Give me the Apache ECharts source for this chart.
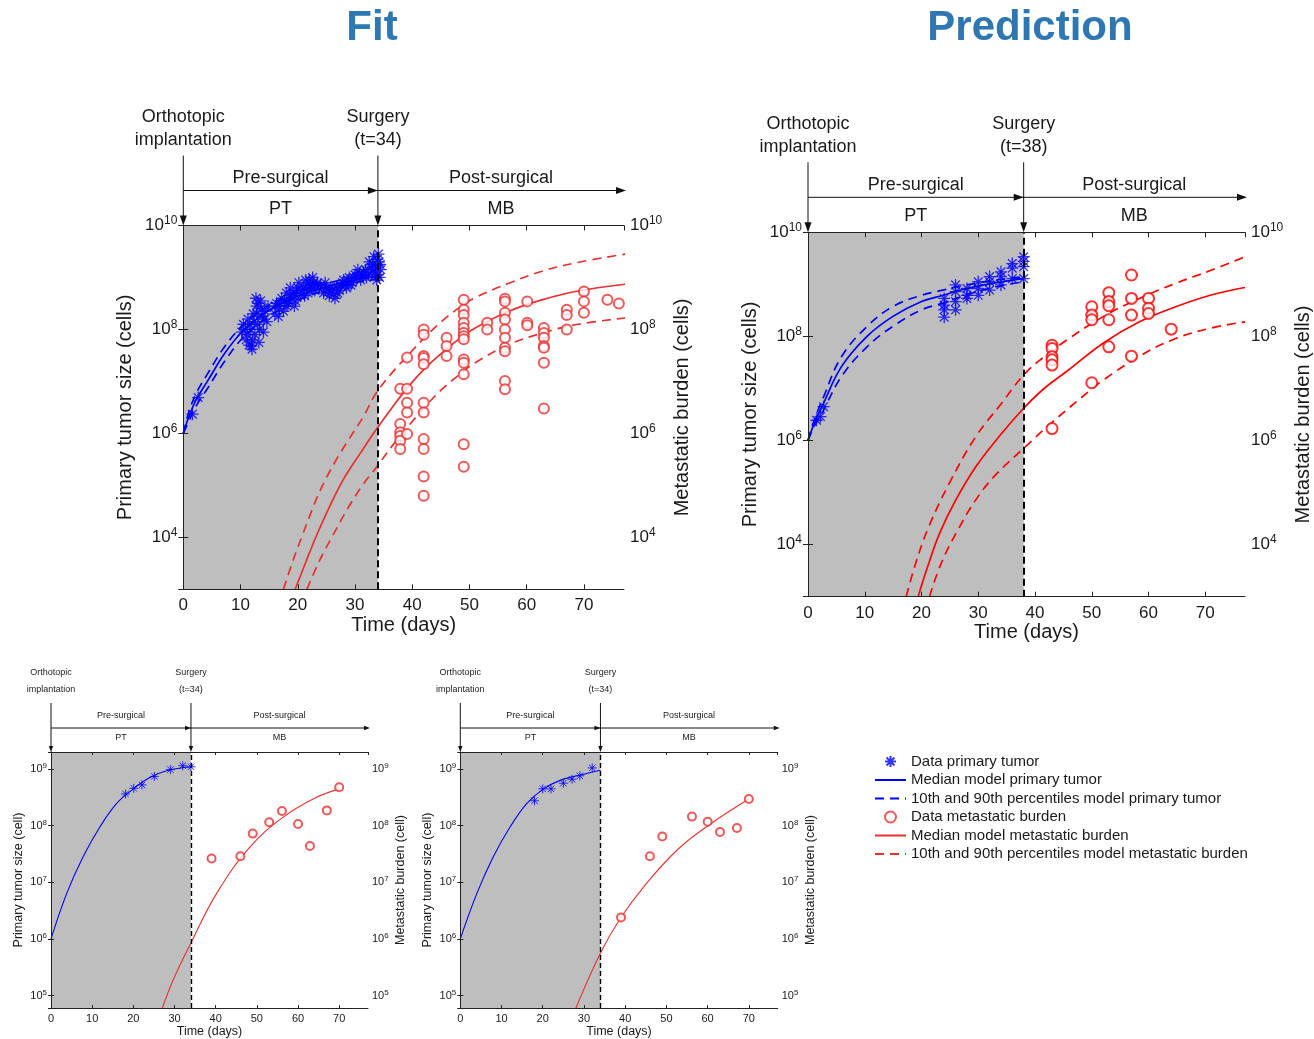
<!DOCTYPE html>
<html>
<head>
<meta charset="utf-8">
<script src="https://cdn.jsdelivr.net/npm/echarts@6/dist/echarts.min.js"></script>
<style>
html,body{margin:0;padding:0;background:#fff;}
#chart{width:1314px;height:1039px;}
</style>
</head>
<body>
<div id="chart"></div>
<script>
// ===================== DATA (values are log10 of cell counts) =====================
const xTickValues = [0, 10, 20, 30, 40, 50, 60, 70];
const timeMax = 77;

// ---- Fit panel (top-left) ----
const fitSurgery = 34;
const fitPTDataDays = [1.6, 2.6, 10.2, 10.5, 11.0, 11.3, 11.5, 11.8, 12.0, 12.2, 12.5, 12.7, 12.8, 13.0, 13.2, 13.5, 13.8, 14.0, 14.3, 14.6, 16.0, 16.3, 16.8, 17.2, 17.5, 18.0, 18.3, 18.7, 19.0, 19.4, 19.8, 20.2, 20.5, 21.0, 21.4, 21.8, 22.2, 22.6, 23.0, 23.4, 24.0, 24.5, 25.0, 25.5, 26.0, 26.5, 27.0, 27.5, 28.0, 28.5, 29.0, 29.5, 30.0, 30.5, 31.0, 31.5, 32.0, 32.5, 33.0, 33.3, 33.6, 33.8, 34.0, 34.2, 34.5,
  10.8, 11.2, 11.6, 12.1, 12.4, 12.9, 13.3, 13.6, 14.1, 14.8, 13.1, 11.9,
  16.1, 16.6, 17.0, 17.7, 18.1, 18.5, 19.2, 19.6, 20.0, 20.7, 21.2, 21.6, 22.0, 22.4, 22.8, 23.2,
  24.2, 24.8, 25.3, 25.8, 26.3, 26.8, 27.3, 27.8, 28.3, 28.8, 29.3, 29.8,
  30.3, 30.8, 31.3, 31.8, 32.3, 32.8, 33.1, 33.5, 33.9, 34.3, 34.4, 34.1];
const fitPTDataLog = [6.37, 6.69, 7.95, 8.10, 7.80, 8.20, 7.70, 8.00, 7.62, 8.30, 7.90, 8.60, 8.45, 8.10, 7.75, 8.55, 8.25, 7.95, 8.35, 8.15, 8.30, 8.50, 8.40, 8.60, 8.35, 8.70, 8.50, 8.80, 8.60, 8.45, 8.75, 8.90, 8.65, 8.80, 8.95, 8.70, 8.85, 9.00, 8.75, 8.90, 8.85, 8.70, 8.80, 8.65, 8.75, 8.60, 8.70, 8.85, 8.95, 8.80, 9.00, 8.90, 9.05, 9.15, 8.95, 9.10, 9.00, 9.30, 9.10, 9.40, 9.20, 8.95, 9.05, 9.30, 9.15,
  8.00, 7.90, 8.10, 7.80, 8.15, 8.30, 8.00, 8.40, 8.20, 8.45, 8.50, 7.68,
  8.45, 8.25, 8.50, 8.55, 8.45, 8.65, 8.70, 8.55, 8.80, 8.75, 8.65, 8.85, 8.95, 8.80, 8.90, 8.85,
  8.78, 8.90, 8.72, 8.82, 8.68, 8.80, 8.75, 8.90, 8.85, 8.95, 8.85, 9.00,
  9.00, 9.08, 9.05, 9.15, 9.05, 9.20, 9.25, 9.10, 9.35, 9.00, 9.25, 9.45];
const fitPTModelDays = [0, 1, 2.3, 4.2, 7.3, 10.4, 14, 18, 22, 26, 30, 34];
const fitPTMedianLog = [6.0, 6.33, 6.66, 7.0, 7.55, 7.97, 8.3, 8.55, 8.72, 8.85, 8.95, 9.02];
const fitPTHighLog   = [6.0, 6.42, 6.78, 7.14, 7.68, 8.08, 8.40, 8.63, 8.79, 8.91, 9.00, 9.07];
const fitPTLowLog    = [6.0, 6.24, 6.54, 6.86, 7.40, 7.84, 8.18, 8.46, 8.65, 8.79, 8.90, 8.97];
const fitMBDataDays = [37.9, 37.9, 37.9, 37.9, 37.9, 37.9, 39.1, 39.1, 39.1, 39.1, 39.1, 42, 42, 42, 42, 42, 42, 42, 42, 42, 42, 42, 46, 46, 46, 49, 49, 49, 49, 49, 49, 49, 49, 49, 49, 49, 49, 49, 53.1, 53.1, 56.2, 56.2, 56.2, 56.2, 56.2, 56.2, 56.2, 56.2, 56.2, 56.2, 60.1, 60.1, 60.1, 63, 63, 63, 63, 63, 63, 63, 67, 67, 67, 70, 70, 70, 74.1, 76.1];
const fitMBDataLog  = [6.86, 6.18, 6.02, 5.95, 5.86, 5.70, 7.46, 6.86, 6.59, 6.40, 5.99, 8.00, 7.90, 7.49, 7.45, 7.33, 6.59, 6.40, 5.89, 5.70, 5.17, 4.80, 7.84, 7.68, 7.49, 8.57, 8.38, 8.28, 8.13, 8.03, 7.93, 7.87, 7.81, 7.42, 7.36, 7.14, 5.79, 5.36, 8.13, 8.00, 8.59, 8.54, 8.32, 8.19, 8.00, 7.84, 7.65, 7.58, 7.01, 6.85, 8.54, 8.13, 8.08, 8.03, 7.93, 7.84, 7.68, 7.65, 7.36, 6.48, 8.38, 8.28, 8.00, 8.73, 8.54, 8.32, 8.57, 8.50];
const fitMBMedianDays = [19.55, 21.5, 23.3, 25.6, 28, 31, 33.55, 36.5, 39.4, 42.3, 45.2, 48.1, 51, 56.9, 62.7, 68.5, 77.2];
const fitMBMedianLog  = [3.0, 3.55, 4.04, 4.6, 5.12, 5.63, 6.05, 6.5, 6.91, 7.26, 7.55, 7.81, 8.03, 8.35, 8.57, 8.73, 8.87];
const fitMBHighDays = [17.5, 19, 20.7, 22.3, 23.9, 26.5, 29, 31.5, 33.55, 36.5, 39.4, 42.3, 45.2, 48.1, 51, 56.9, 62.7, 68.5, 77.2];
const fitMBHighLog  = [3.0, 3.5, 4.01, 4.47, 4.9, 5.45, 5.9, 6.33, 6.75, 7.17, 7.52, 7.86, 8.16, 8.41, 8.61, 8.89, 9.12, 9.28, 9.45];
const fitMBLowDays = [21.6, 23.8, 26, 28.7, 31.5, 33.55, 36.5, 39.4, 42.3, 45.2, 48.1, 51, 56.9, 62.7, 68.5, 77.2];
const fitMBLowLog  = [3.0, 3.55, 4.01, 4.55, 5.03, 5.32, 5.76, 6.15, 6.52, 6.85, 7.12, 7.36, 7.71, 7.93, 8.09, 8.22];

// ---- Prediction panel (top-right) ----
const predSurgery = 38;
const predPTDataDays = [1.5, 2.2, 2.75, 24, 24, 24, 24, 26, 26, 26, 26, 28, 28, 28, 30, 30, 30, 32, 32, 32, 34, 34, 34, 36, 36, 36, 38, 38, 38, 38];
const predPTDataLog  = [6.39, 6.46, 6.65, 8.73, 8.60, 8.51, 8.37, 8.99, 8.86, 8.67, 8.51, 8.92, 8.79, 8.73, 9.05, 8.92, 8.79, 9.15, 9.05, 8.89, 9.24, 9.15, 8.99, 9.40, 9.31, 9.11, 9.53, 9.44, 9.34, 9.11];
const predPTModelDays = [0, 1, 2.75, 5.9, 10.4, 14.9, 20, 23.8, 28, 33, 38];
const predPTMedianLog = [6.0, 6.30, 6.72, 7.42, 8.00, 8.38, 8.67, 8.79, 8.92, 9.03, 9.11];
const predPTHighLog   = [6.0, 6.36, 6.84, 7.61, 8.19, 8.57, 8.79, 8.89, 8.99, 9.08, 9.15];
const predPTLowLog    = [6.0, 6.25, 6.59, 7.23, 7.80, 8.19, 8.51, 8.64, 8.80, 8.95, 9.05];
const predMBDataDays = [43, 43, 43, 43, 43, 43, 50, 50, 50, 50, 53, 53, 53, 53, 53, 57, 57, 57, 57, 60, 60, 60, 64];
const predMBDataLog  = [7.83, 7.77, 7.61, 7.55, 7.45, 6.23, 8.57, 8.41, 8.32, 7.11, 8.84, 8.67, 8.59, 8.32, 7.80, 9.18, 8.73, 8.41, 7.62, 8.73, 8.54, 8.44, 8.14];
const predMBMedianDays = [19.4, 21, 23.2, 26, 29.6, 34, 38, 41.5, 45.6, 52, 58.4, 64.8, 71.2, 77];
const predMBMedianLog  = [3.0, 3.55, 4.22, 4.85, 5.5, 6.12, 6.62, 6.99, 7.33, 7.87, 8.28, 8.57, 8.80, 8.94];
const predMBHighDays = [17.3, 19, 21.3, 25, 29.6, 34, 38, 41.5, 45.6, 52, 58.4, 64.8, 71, 77];
const predMBHighLog  = [3.0, 3.65, 4.35, 5.2, 6.08, 6.7, 7.26, 7.6, 7.93, 8.38, 8.73, 9.02, 9.27, 9.53];
const predMBLowDays = [21.4, 23.5, 26.4, 29.5, 32.8, 38, 43, 49.9, 52, 58.4, 64.8, 71, 77];
const predMBLowLog  = [3.0, 3.65, 4.28, 4.85, 5.31, 5.85, 6.35, 6.98, 7.16, 7.62, 7.96, 8.16, 8.28];

// ---- Individual fit 1 (bottom-left) ----
const ind1Surgery = 34;
const ind1PTDataDays = [18.1, 20.1, 22.1, 25.1, 29, 32, 34];
const ind1PTDataLog  = [8.56, 8.66, 8.72, 8.87, 8.99, 9.06, 9.04];
const ind1PTMedianDays = [0, 3.8, 7.8, 11.9, 15.9, 20, 24, 28.1, 34];
const ind1PTMedianLog  = [6.0, 6.8, 7.45, 7.98, 8.39, 8.65, 8.85, 8.97, 9.04];
const ind1MBDataDays = [39, 46, 49, 53, 56.1, 60, 62.9, 67, 70];
const ind1MBDataLog  = [7.42, 7.46, 7.86, 8.06, 8.26, 8.03, 7.64, 8.27, 8.68];
const ind1MBMedianDays = [27, 29.7, 34, 40.2, 48.3, 56.4, 64.5, 70.1];
const ind1MBMedianLog  = [4.77, 5.28, 5.93, 6.80, 7.62, 8.15, 8.50, 8.65];

// ---- Individual fit 2 (bottom-middle) ----
const ind2Surgery = 34;
const ind2PTDataDays = [18, 20, 22, 25, 27.1, 29, 32];
const ind2PTDataLog  = [8.44, 8.65, 8.65, 8.75, 8.82, 8.88, 9.02];
const ind2PTMedianDays = [0, 4, 8, 12.1, 16.1, 20.2, 24.2, 28.3, 34];
const ind2PTMedianLog  = [6.0, 6.8, 7.45, 7.98, 8.39, 8.65, 8.80, 8.88, 8.98];
const ind2MBDataDays = [39, 46, 49, 56.2, 60, 63, 67.1, 70];
const ind2MBDataLog  = [6.38, 7.46, 7.81, 8.16, 8.07, 7.89, 7.96, 8.47];
const ind2MBMedianDays = [28, 34, 38.8, 44.5, 52.6, 60.7, 70];
const ind2MBMedianLog  = [4.77, 5.75, 6.36, 6.92, 7.57, 8.03, 8.47];

const legendNames = [
  'Data primary tumor',
  'Median model primary tumor',
  '10th and 90th percentiles model primary tumor',
  'Data metastatic burden',
  'Median model metastatic burden',
  '10th and 90th percentiles model metastatic burden'
];

// ===================== LAYOUT / STYLE =====================
const FONT = '"Liberation Sans", Arial, Helvetica, sans-serif';
const TXT = '#1a1a1a';
const ASTERISK = 'path://M0,-6L0,6M-6,0L6,0M-4.3,-4.3L4.3,4.3M4.3,-4.3L-4.3,4.3';

function pairs(days, logs) {
  return days.map((d, i) => [d, Math.pow(10, logs[i])]);
}

const panels = [
  {
    grid: {left: 183.3, top: 225.5, width: 440.7, height: 363.8},
    big: true, yMin: 1e3, yMax: 1e10, logBase: 100, split: 3, minExp: 4, unit: '(cells)',
    surgery: fitSurgery, red: '#e8302f', blue: '#0000ff', circle: 10, star: 12, lw: 1.7,
    ptData: pairs(fitPTDataDays, fitPTDataLog),
    ptMed: pairs(fitPTModelDays, fitPTMedianLog),
    ptHi: pairs(fitPTModelDays, fitPTHighLog),
    ptLo: pairs(fitPTModelDays, fitPTLowLog),
    mbData: pairs(fitMBDataDays, fitMBDataLog),
    mbMed: pairs(fitMBMedianDays, fitMBMedianLog),
    mbHi: pairs(fitMBHighDays, fitMBHighLog),
    mbLo: pairs(fitMBLowDays, fitMBLowLog)
  },
  {
    grid: {left: 808, top: 232.3, width: 438, height: 364.4},
    big: true, yMin: 1e3, yMax: 1e10, logBase: 100, split: 3, minExp: 4, unit: '(cells)',
    surgery: predSurgery, red: '#ff0000', blue: '#0000ff', circle: 11, star: 12, lw: 1.7,
    ptData: pairs(predPTDataDays, predPTDataLog),
    ptMed: pairs(predPTModelDays, predPTMedianLog),
    ptHi: pairs(predPTModelDays, predPTHighLog),
    ptLo: pairs(predPTModelDays, predPTLowLog),
    mbData: pairs(predMBDataDays, predMBDataLog),
    mbMed: pairs(predMBMedianDays, predMBMedianLog),
    mbHi: pairs(predMBHighDays, predMBHighLog),
    mbLo: pairs(predMBLowDays, predMBLowLog)
  },
  {
    grid: {left: 51, top: 752, width: 317, height: 257},
    big: false, yMin: 6e4, yMax: 2e9, logBase: 10, split: 5, minExp: 5, unit: '(cell)',
    surgery: ind1Surgery, red: '#e8302f', blue: '#0000ff', circle: 8, star: 9, lw: 1.1,
    ptData: pairs(ind1PTDataDays, ind1PTDataLog),
    ptMed: pairs(ind1PTMedianDays, ind1PTMedianLog),
    mbData: pairs(ind1MBDataDays, ind1MBDataLog),
    mbMed: pairs(ind1MBMedianDays, ind1MBMedianLog)
  },
  {
    grid: {left: 460.3, top: 752, width: 317.4, height: 257},
    big: false, yMin: 6e4, yMax: 2e9, logBase: 10, split: 5, minExp: 5, unit: '(cell)',
    surgery: ind2Surgery, red: '#e8302f', blue: '#0000ff', circle: 8, star: 9, lw: 1.1,
    ptData: pairs(ind2PTDataDays, ind2PTDataLog),
    ptMed: pairs(ind2PTMedianDays, ind2PTMedianLog),
    mbData: pairs(ind2MBDataDays, ind2MBDataLog),
    mbMed: pairs(ind2MBMedianDays, ind2MBMedianLog)
  }
];

function expFormatter(minExp) {
  return function (v) {
    const e = Math.log10(v);
    const r = Math.round(e);
    if (Math.abs(e - r) > 1e-6 || r < minExp) return '';
    return '{b|10}{s|' + r + '}';
  };
}
function expRich(big) {
  return big ? {
    b: {fontFamily: FONT, fontSize: 17, lineHeight: 22, color: TXT},
    s: {fontFamily: FONT, fontSize: 12, lineHeight: 13, verticalAlign: 'top', color: TXT}
  } : {
    b: {fontFamily: FONT, fontSize: 11, lineHeight: 14, color: TXT},
    s: {fontFamily: FONT, fontSize: 8, lineHeight: 9, verticalAlign: 'top', color: TXT}
  };
}

const grids = [], xAxes = [], yAxes = [], series = [];
panels.forEach((p, i) => {
  grids.push(Object.assign({containLabel: false}, p.grid));
  const axLine = {show: true, lineStyle: {color: '#222', width: 1}};
  const tick = {show: true, inside: true, length: p.big ? 5 : 3, lineStyle: {color: '#222', width: 1}};
  xAxes.push({
    type: 'value', gridIndex: i, position: 'bottom', min: 0, max: timeMax, interval: 10, z: 5,
    name: 'Time (days)', nameLocation: 'middle', nameGap: p.big ? 26 : 15,
    nameTextStyle: {fontFamily: FONT, fontSize: p.big ? 20 : 12.5, color: TXT},
    axisLine: axLine, axisTick: tick, splitLine: {show: false},
    axisLabel: {showMaxLabel: false, margin: p.big ? 8 : 5, fontFamily: FONT, fontSize: p.big ? 17 : 11, color: TXT,
      formatter: v => (xTickValues.indexOf(v) >= 0 ? String(v) : '')}
  });
  xAxes.push({
    type: 'value', gridIndex: i, position: 'top', min: 0, max: timeMax, interval: 10, z: 5,
    axisLine: axLine, axisTick: tick, splitLine: {show: false}, axisLabel: {show: false}
  });
  ['left', 'right'].forEach(side => {
    yAxes.push({
      type: 'log', gridIndex: i, position: side, logBase: p.logBase, min: p.yMin, max: p.yMax,
      splitNumber: p.split, z: 5,
      name: (side === 'left' ? 'Primary tumor size ' : 'Metastatic burden ') + p.unit,
      nameLocation: 'middle', nameRotate: 90, nameGap: p.big ? 48 : 26,
      nameTextStyle: {fontFamily: FONT, fontSize: p.big ? 20 : 12.5, color: TXT},
      axisLine: axLine, axisTick: tick, splitLine: {show: false}, minorTick: {show: false},
      axisLabel: {margin: p.big ? 6 : 4, formatter: expFormatter(p.minExp), rich: expRich(p.big)}
    });
  });
  const xi = 2 * i, yl = 2 * i, yr = 2 * i + 1;
  const dash = p.big ? [9, 6] : [6, 4];
  // shaded pre-surgical region
  series.push({
    type: 'line', name: 'bg' + i, xAxisIndex: xi, yAxisIndex: yl, data: [], silent: true, z: 0,
    markArea: {silent: true, itemStyle: {color: '#bebebe'}, data: [[{xAxis: 0}, {xAxis: p.surgery}]]}
  });
  const line = (name, data, color, yIdx, type) => ({
    type: 'line', name, data, xAxisIndex: xi, yAxisIndex: yIdx, smooth: 0.4,
    symbol: 'none', showSymbol: false, clip: true, z: 3, silent: true,
    lineStyle: {color, width: p.lw, type: type || 'solid'}, itemStyle: {color}
  });
  series.push(line(legendNames[1], p.ptMed, p.blue, yl));
  if (p.ptHi) {
    series.push(line(legendNames[2], p.ptHi, p.blue, yl, dash));
    series.push(line(legendNames[2], p.ptLo, p.blue, yl, dash));
  }
  series.push(line(legendNames[4], p.mbMed, p.red, yr));
  if (p.mbHi) {
    series.push(line(legendNames[5], p.mbHi, p.red, yr, dash));
    series.push(line(legendNames[5], p.mbLo, p.red, yr, dash));
  }
  series.push({
    type: 'scatter', name: legendNames[0], data: p.ptData, xAxisIndex: xi, yAxisIndex: yl, z: 4, silent: true,
    symbol: ASTERISK, symbolSize: p.star,
    itemStyle: {color: p.blue, borderColor: p.blue, borderWidth: p.big ? 1.3 : 1}
  });
  series.push({
    type: 'scatter', name: legendNames[3], data: p.mbData, xAxisIndex: xi, yAxisIndex: yr, z: 4, silent: true,
    symbol: 'emptyCircle', symbolSize: p.circle,
    itemStyle: {color: p.red, borderColor: p.red, borderWidth: p.big ? 1.1 : 1}
  });
  // surgery line
  series.push({
    type: 'line', name: 'surg' + i, xAxisIndex: xi, yAxisIndex: yl, data: [], silent: true, z: 6,
    markLine: {silent: true, symbol: 'none', label: {show: false},
      lineStyle: {color: '#000', type: p.big ? [7, 4] : [5, 3], width: p.big ? 2 : 1.4},
      data: [{xAxis: p.surgery}]}
  });
});

const chart = echarts.init(document.getElementById('chart'), null, {renderer: 'canvas'});
chart.setOption({
  animation: false,
  backgroundColor: '#ffffff',
  grid: grids,
  xAxis: xAxes,
  yAxis: yAxes,
  legend: {
    orient: 'vertical', left: 874, top: 754, itemWidth: 31, itemHeight: 11, itemGap: 3.5,
    selectedMode: false, padding: 0,
    textStyle: {fontFamily: FONT, fontSize: 15, color: TXT},
    data: legendNames.map((n, k) => (k === 0 || k === 3) ? {name: n} : {name: n, itemStyle: {opacity: 0}})
  },
  series: series
});

// ===================== annotations (timeline arrows, labels, titles) =====================
const g = [];
function txt(x, y, text, size, opts) {
  g.push({
    type: 'text', x, y, silent: true,
    style: {text, x: 0, y: 0, font: (opts && opts.weight ? opts.weight + ' ' : '') + size + 'px ' + FONT,
      fill: (opts && opts.color) || TXT, textAlign: 'center', textVerticalAlign: 'middle', align: 'center', verticalAlign: 'middle'}
  });
}
function seg(x1, y1, x2, y2) {
  g.push({type: 'line', silent: true, shape: {x1, y1, x2, y2}, style: {stroke: '#111', lineWidth: 1}});
}
function tri(points) {
  g.push({type: 'polygon', silent: true, shape: {points}, style: {fill: '#111'}});
}
panels.forEach((p, i) => {
  const x0 = chart.convertToPixel({xAxisIndex: 2 * i}, 0);
  const xs = chart.convertToPixel({xAxisIndex: 2 * i}, p.surgery);
  const xe = chart.convertToPixel({xAxisIndex: 2 * i}, timeMax);
  const T = chart.convertToPixel({yAxisIndex: 2 * i}, p.yMax);
  const fs = p.big ? 18 : 9;
  const vStart = T - (p.big ? 70 : 49);
  const hY = T - (p.big ? 35 : 24);
  const al = p.big ? 10 : 6, aw = p.big ? 3.5 : 2.2;
  [x0, xs].forEach(x => {
    seg(x, vStart, x, T - al + 1);
    tri([[x - aw, T - al], [x + aw, T - al], [x, T]]);
  });
  seg(x0, hY, xe + 2 - al, hY);
  tri([[xs - al, hY - aw], [xs - al, hY + aw], [xs, hY]]);
  tri([[xe + 2 - al, hY - aw], [xe + 2 - al, hY + aw], [xe + 2, hY]]);
  const l1 = T - (p.big ? 108 : 79), l2 = T - (p.big ? 85 : 62);
  txt(x0, l1, 'Orthotopic', fs);
  txt(x0, l2, 'implantation', fs);
  txt(xs, l1, 'Surgery', fs);
  txt(xs, l2, '(t=' + p.surgery + ')', fs);
  const pre = T - (p.big ? 47 : 36), pt = T - (p.big ? 16 : 14);
  txt((x0 + xs) / 2, pre, 'Pre-surgical', fs);
  txt((xs + xe) / 2, pre, 'Post-surgical', fs);
  txt((x0 + xs) / 2, pt, 'PT', fs);
  txt((xs + xe) / 2, pt, 'MB', fs);
});
txt(372, 28, 'Fit', 42, {weight: 'bold', color: '#2e77b2'});
txt(1030, 28, 'Prediction', 42, {weight: 'bold', color: '#2e77b2'});
chart.setOption({graphic: {elements: g}});
</script>
</body>
</html>
